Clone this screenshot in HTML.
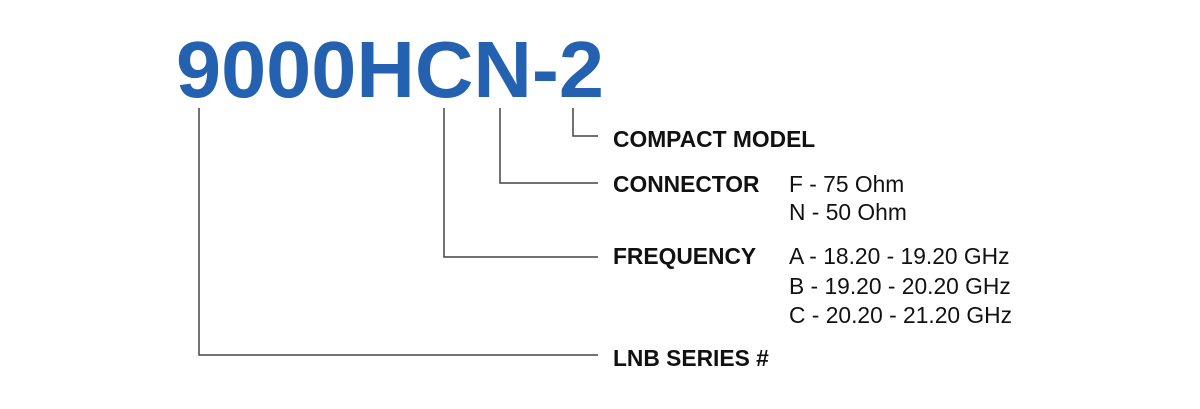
<!DOCTYPE html>
<html><head><style>
html,body{margin:0;padding:0;background:#fff;}
.w{position:relative;width:1200px;height:409px;overflow:hidden;font-family:"Liberation Sans",Arial,sans-serif;}
.t{position:absolute;white-space:nowrap;line-height:1;}
.b{font-weight:bold;font-size:22.8px;color:#111;}
.v{font-size:22.8px;color:#111;}
</style></head><body><div class="w">
<svg width="1200" height="409" style="position:absolute;left:0;top:0">
<text x="176" y="97" font-family="Liberation Sans, Arial, sans-serif" font-weight="bold" font-size="80" fill="#2461b0" textLength="428" lengthAdjust="spacingAndGlyphs">9000HCN-2</text>
<g stroke="#444" stroke-width="1.5" fill="none">
<polyline points="199,108 199,355 598,355"/>
<polyline points="444,108 444,257 598,257"/>
<polyline points="500,108 500,183 598,183"/>
<polyline points="573,108 573,136 598,136"/>
</g>
</svg>
<div class="t b" style="left:613px;top:128px">COMPACT MODEL</div>
<div class="t b" style="left:613px;top:173px">CONNECTOR</div>
<div class="t b" style="left:613px;top:245px">FREQUENCY</div>
<div class="t b" style="left:613px;top:347px">LNB SERIES #</div>
<div class="t v" style="left:789px;top:173px">F - 75 Ohm</div>
<div class="t v" style="left:789px;top:201px">N - 50 Ohm</div>
<div class="t v" style="left:789px;top:245px">A - 18.20 - 19.20 GHz</div>
<div class="t v" style="left:789px;top:275px">B - 19.20 - 20.20 GHz</div>
<div class="t v" style="left:789px;top:304px">C - 20.20 - 21.20 GHz</div>
</div></body></html>
